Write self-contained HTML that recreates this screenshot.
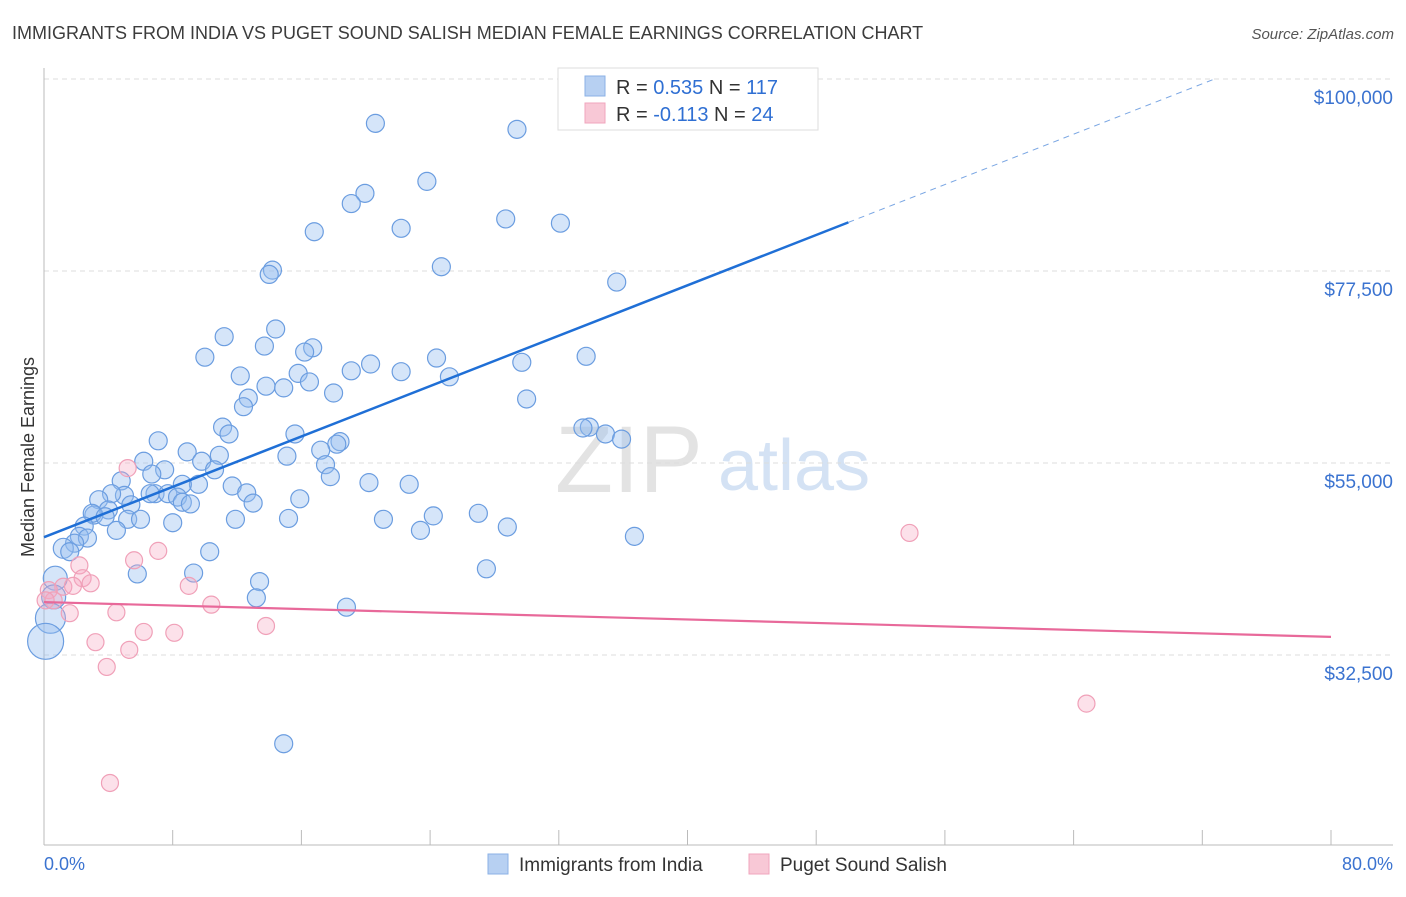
<!DOCTYPE html>
<html><head><meta charset="utf-8"><style>
body{margin:0;background:#fff;font-family:"Liberation Sans",sans-serif;}
svg text{font-family:"Liberation Sans",sans-serif;}
</style></head><body>
<svg id="chart" width="1406" height="892" xmlns="http://www.w3.org/2000/svg">
<text x="12" y="39" font-size="18" fill="#3c3c3c">IMMIGRANTS FROM INDIA VS PUGET SOUND SALISH MEDIAN FEMALE EARNINGS CORRELATION CHART</text>
<text x="1394" y="39" font-size="15" fill="#555" text-anchor="end" font-style="italic">Source: ZipAtlas.com</text>
<text transform="translate(34,457) rotate(-90)" font-size="18" fill="#333" text-anchor="middle">Median Female Earnings</text>
<g>
<text x="555" y="492" font-size="95" fill="#d8d8d8" font-family="Liberation Serif" opacity="0.7">ZIP</text>
<text x="718" y="490" font-size="72" fill="#b8d0ee" opacity="0.6">atlas</text>
</g>
<g id="grid"></g>
<g id="axes"></g>
<g id="marks"></g>
<g id="lines"></g>
<g>
<rect x="558" y="68" width="260" height="62" fill="#fff" stroke="#ddd"/>
<rect x="585" y="76" width="20" height="20" fill="#b7d0f2" stroke="#8bb1e6"/>
<text x="616" y="94" font-size="20" fill="#333">R = <tspan fill="#2f6fd3">0.535</tspan>   N = <tspan fill="#2f6fd3">117</tspan></text>
<rect x="585" y="103" width="20" height="20" fill="#f8c8d6" stroke="#f0a6bd"/>
<text x="616" y="121" font-size="20" fill="#333">R = <tspan fill="#2f6fd3">-0.113</tspan>   N = <tspan fill="#2f6fd3">24</tspan></text>
</g>
<g>
<rect x="488" y="854" width="20" height="20" fill="#b7d0f2" stroke="#8bb1e6"/>
<text x="519" y="871" font-size="19" fill="#333">Immigrants from India</text>
<rect x="749" y="854" width="20" height="20" fill="#f8c8d6" stroke="#f0a6bd"/>
<text x="780" y="871" font-size="19" fill="#333">Puget Sound Salish</text>
</g>
<text x="44" y="870" font-size="18" fill="#3b73d0">0.0%</text>
<text x="1393" y="870" font-size="18" fill="#3b73d0" text-anchor="end">80.0%</text>
</svg>
<script>
const yTicks=[100000,77500,55000,32500];
const yTickLabels=["$100,000","$77,500","$55,000","$32,500"];
const xTicks=[0,8,16,24,32,40,48,56,64,72,80];
const indiaX=[20.6,29.4,23.8,19.95,19.1,28.7,32.1,16.8,22.2,14.2,14.0,24.7,35.6,14.4,11.2,13.7,16.7,16.2,10.0,24.4,33.7,29.7,20.3,19.1,12.2,15.8,22.2,25.2,13.8,14.9,16.5,18.0,12.7,12.4,30.0,33.9,33.5,11.1,11.5,15.6,34.9,35.9,7.1,18.4,18.2,8.9,17.2,15.1,10.9,6.2,9.8,17.5,7.5,10.6,6.7,17.8,9.6,11.7,20.2,22.7,4.8,8.6,12.6,6.9,7.7,8.3,5.0,4.2,3.4,6.6,8.6,13.0,15.9,4.0,5.4,9.1,3.1,3.0,3.8,5.2,6.0,11.9,15.2,21.1,27.0,24.2,28.8,23.4,2.5,4.5,8.0,2.2,2.7,1.9,1.2,1.6,10.3,36.7,27.5,5.8,9.3,13.4,13.2,18.8,14.9,0.7,0.6,0.4,0.1];
const indiaY=[94.8,94.1,88.0,86.6,85.4,83.6,83.1,82.1,82.5,77.6,77.1,78.0,76.2,70.7,69.8,68.7,68.5,68.0,67.4,67.3,67.5,66.8,66.6,65.8,65.2,65.5,65.7,65.1,64.0,63.8,64.5,63.2,62.6,61.6,62.5,59.2,59.1,59.2,58.4,58.4,58.4,57.8,57.6,57.5,57.2,56.3,56.5,55.8,55.9,55.2,55.2,54.8,54.2,54.2,53.7,53.4,52.5,52.3,52.7,52.5,52.9,52.5,51.5,51.4,51.4,51.0,51.2,51.4,50.7,51.4,50.4,50.3,50.8,49.5,50.1,50.2,48.9,49.1,48.7,48.4,48.4,48.4,48.5,48.4,49.1,48.8,47.5,47.1,47.6,47.1,48.0,46.4,46.2,45.6,45.0,44.6,44.6,46.4,42.6,42.0,42.1,41.1,39.2,38.1,22.1,41.5,39.3,36.8,34.1];
const indiaBig=[[105,12],[106,12],[107,15],[108,18],[94,10]];
const salishX=[5.2,7.1,5.6,2.2,2.4,1.2,1.8,2.9,9.0,0.3,0.6,10.4,4.5,1.6,13.8,6.2,8.1,3.2,5.3,3.9,4.1,53.8,64.8,0.1];
const salishY=[54.4,44.7,43.6,43.0,41.5,40.5,40.6,40.9,40.6,40.1,38.9,38.4,37.5,37.4,35.9,35.2,35.1,34.0,33.1,31.1,17.5,46.8,26.8,38.9];
const indiaTrend=[46.3,0.738]; // intercept ($k), slope per pct
const salishTrend=[38.7,-0.051];
const NS="http://www.w3.org/2000/svg";
const X0=44,X1=1331,PX=(X1-X0)/80;
const xs=p=>X0+p*PX;
const ys=k=>79+(100-k)*8.533;
function mk(tag,attrs,parent){const e=document.createElementNS(NS,tag);for(const k in attrs)e.setAttribute(k,attrs[k]);parent.appendChild(e);return e;}
const grid=document.getElementById('grid'),axes=document.getElementById('axes'),marks=document.getElementById('marks'),lines=document.getElementById('lines');
yTicks.forEach((v,i)=>{
 const y=ys(v/1000);
 const g=mk('line',{x1:44,x2:1393,y1:y,y2:y,stroke:'#ddd','stroke-dasharray':'5,4'},grid);
 
 
 const t=mk('text',{x:1393,y:y+25,'font-size':19,fill:'#3b73d0','text-anchor':'end'},axes);
 t.textContent=yTickLabels[i];
 
 
});
const al=mk('line',{x1:44,x2:44,y1:68,y2:845,stroke:'#bbb'},axes);


const bl=mk('line',{x1:44,x2:1393,y1:845,y2:845,stroke:'#bbb'},axes);


xTicks.forEach(p=>{
 const t=mk('line',{x1:xs(p),x2:xs(p),y1:830,y2:845,stroke:'#bbb'},axes);
 
 
});
indiaX.forEach((p,i)=>{
 let r=9;indiaBig.forEach(b=>{if(b[0]===i)r=b[1];});
 const c=mk('circle',{cx:xs(p),cy:ys(indiaY[i]),r:r,fill:'rgba(150,190,240,0.4)',stroke:'#6b9de0','stroke-width':1.2},marks);
 
 
});
salishX.forEach((p,i)=>{
 const c=mk('circle',{cx:xs(p),cy:ys(salishY[i]),r:8.5,fill:'rgba(245,170,195,0.35)',stroke:'#f0a0b8','stroke-width':1.2},marks);
 
 
});
const f=(t,p)=>t[0]+t[1]*p;
const l1=mk('line',{x1:xs(0),y1:ys(f(indiaTrend,0)),x2:xs(50),y2:ys(f(indiaTrend,50)),stroke:'#1f6fd6','stroke-width':2.5},lines);


const pEnd=(100-indiaTrend[0])/indiaTrend[1];
const l2=mk('line',{x1:xs(50),y1:ys(f(indiaTrend,50)),x2:xs(pEnd),y2:ys(100),stroke:'#7aa6e3','stroke-width':1,'stroke-dasharray':'6,5'},lines);


const l3=mk('line',{x1:xs(0),y1:ys(f(salishTrend,0)),x2:xs(80),y2:ys(f(salishTrend,80)),stroke:'#e8699a','stroke-width':2.2},lines);


</script>
</body></html>
